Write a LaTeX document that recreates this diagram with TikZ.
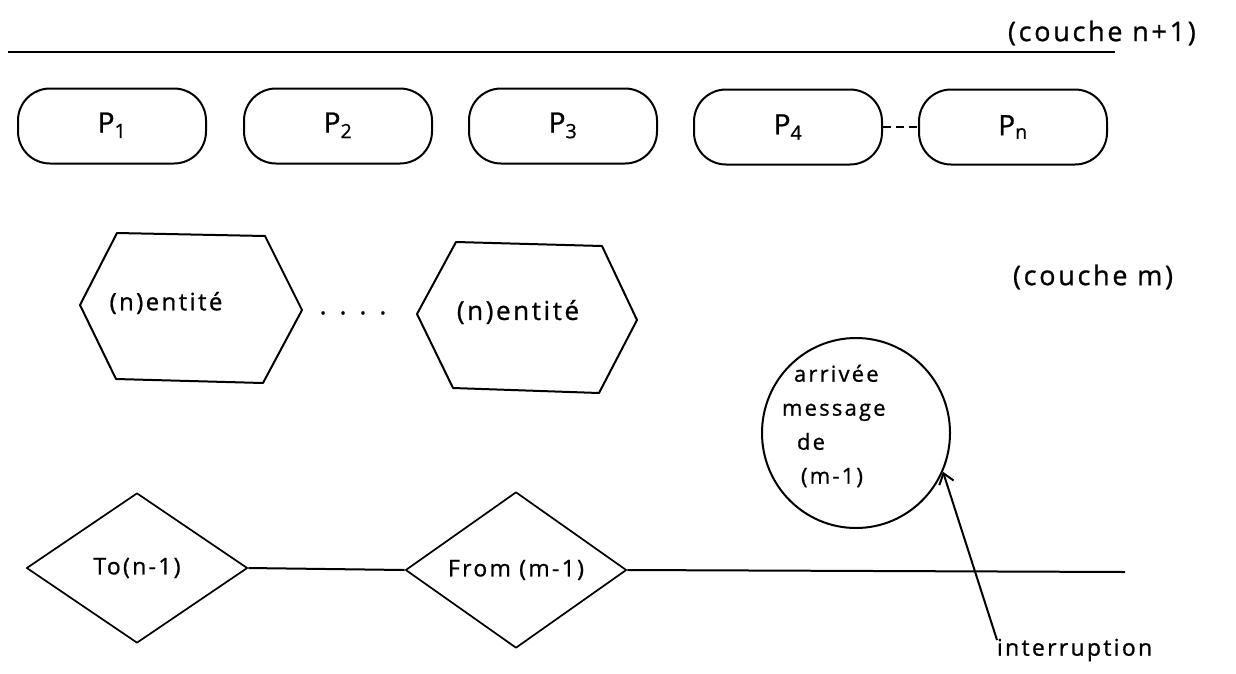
\documentclass[tikz,border=0pt]{standalone}
\usepackage{fontspec}
\setmainfont[LetterSpace=10, FakeBold=0.9]{Open Sans}
\usetikzlibrary{shapes.geometric, arrows.meta}

\begin{document}
\begin{tikzpicture}[x=1pt, y=-1pt, line width=2pt, line join=round,
  hand/.style={inner sep=0pt, font=\fontsize{#1}{#1}\selectfont},
  hand/.default=24,
  proc/.style={draw, rectangle, rounded corners=32pt, minimum width=188pt,
    minimum height=75pt, inner sep=0pt, font=\fontsize{28}{30}\selectfont},
  gate/.style={draw, diamond, minimum width=221pt, minimum height=150pt,
    inner sep=0pt, line width=1.7pt, font=\fontsize{23}{26}\selectfont},
  link/.style={line width=2pt}
]
% page
\fill[white] (0,0) rectangle (1236,673);

% layer n+1: boundary and processes
\coordinate (top-l) at (8,52);
\coordinate (top-r) at (1115,52);
\draw[link] (top-l) -- (top-r);
\node[hand=27, anchor=west] (cn1) at (1007,33) {(couche n+1)};

\node[proc] (p1) at (112,126) {\raisebox{7pt}{P\textsubscript{1}}};
\node[proc] (p2) at (338,126) {\raisebox{7pt}{P\textsubscript{2}}};
\node[proc] (p3) at (563,126) {\raisebox{7pt}{P\textsubscript{3}}};
\node[proc] (p4) at (788,127) {\raisebox{3pt}{P\textsubscript{4}}};
\node[proc] (pn) at (1013,127) {\raisebox{3pt}{P\textsubscript{n}}};
\draw[link, dash pattern=on 8pt off 5pt] (p4.east) -- (pn.west);

% layer n: entities
\draw (80,305) -- (117,233) -- (265,236) -- (302,310) -- (263,383) -- (116,379) -- cycle;
\node[hand=24] (e1) at (166,303) {(n)entité};
\node[hand=26] (dots) at (353,313) {.\hspace{13pt}.\hspace{13pt}.\hspace{13pt}.};
\draw (417,314) -- (456,242) -- (602,246) -- (637,320) -- (599,393) -- (453,388) -- cycle;
\node[hand=26] (e2) at (518,312) {(n)entité};

\node[hand=27, anchor=west] (cm) at (1012,277) {(couche m)};

% incoming message
\node[draw, ellipse, minimum width=188pt, minimum height=190pt, inner sep=0pt] (circ) at (856,433) {};
\node[hand, anchor=west, align=left, font=\fontsize{22}{34}\selectfont] (msg) at (781,426)
  {\hspace{12pt}arrivée\\message\\\hspace{15pt}de\\\hspace{19pt}(m-1)};

% layer n-1 interface
\node[gate] (to) at (137,568) {To(n-1)};
\node[gate] (from) at (516,570) {From (m-1)};
\coordinate (line-end) at (1125,572);
\draw[link] (to.east) -- (from.west);
\draw[link] (from.east) -- (line-end);

% interrupt
\node[hand=23, anchor=west] (intr) at (996,650) {interruption};
\coordinate (istart) at (997,640);
\draw[link, -{Straight Barb[length=10pt, width=15pt]}] (istart) -- (circ.-24);
\end{tikzpicture}
\end{document}
